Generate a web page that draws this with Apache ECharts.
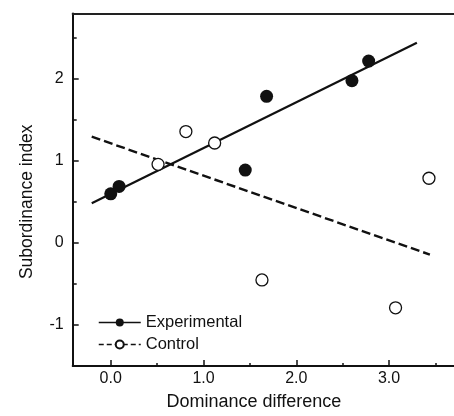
<!DOCTYPE html>
<html>
<head>
<meta charset="utf-8">
<script src="https://cdn.jsdelivr.net/npm/echarts@6/dist/echarts.min.js"></script>
<style>html,body{margin:0;padding:0;background:#fff}#c{width:454px;height:416px}</style>
</head>
<body>
<div id="c"></div>
<script>
// Data
const expX = [0.0, 0.09, 1.45, 1.68, 2.60, 2.78];
const expY = [0.60, 0.69, 0.89, 1.79, 1.98, 2.22];
const ctlX = [0.51, 0.81, 1.12, 1.63, 3.07, 3.43];
const ctlY = [0.96, 1.36, 1.22, -0.45, -0.79, 0.79];
const expFitX = [-0.205, 3.30];
const expFitY = [0.486, 2.442];
const ctlFitX = [-0.205, 3.44];
const ctlFitY = [1.297, -0.141];
const xMajorTicks = [0, 1, 2, 3];
const xMinorTicks = [0.5, 1.5, 2.5, 3.5];
const yMajorTicks = [-1, 0, 1, 2];
const yMinorTicks = [-0.5, 0.5, 1.5, 2.5];
const seriesNames = ['Experimental', 'Control'];

const pairs = (xs, ys) => xs.map((x, i) => [x, ys[i]]);
const FONT = '"Liberation Sans", Arial, Helvetica, sans-serif';
const X_MIN = -0.41, X_MAX = 3.70, Y_MIN = -1.5, Y_MAX = 2.8;

const chart = echarts.init(document.getElementById('c'), null, {renderer: 'canvas'});
const axisLine = {show: true, onZero: false, lineStyle: {color: '#111', width: 2}};
chart.setOption({
  animation: false,
  backgroundColor: '#fff',
  grid: {left: 72.7, right: 0, top: 13.5, bottom: 45.3, containLabel: false},
  legend: {
    orient: 'vertical', left: 93, top: 309,
    itemWidth: 42, itemHeight: 10, itemGap: 5,
    textStyle: {fontFamily: FONT, fontSize: 16.5, color: '#111', padding: [0, 0, 0, 0]},
    data: [
      {name: seriesNames[0], lineStyle: {opacity: 1, width: 1.5, type: 'solid', color: '#111'}},
      {name: seriesNames[1], lineStyle: {opacity: 1, width: 1.5, type: [5, 3], color: '#111'}}
    ]
  },
  xAxis: [
    {
      type: 'value', min: X_MIN, max: X_MAX, position: 'bottom',
      name: 'Dominance difference', nameLocation: 'middle', nameGap: 27,
      nameTextStyle: {fontFamily: FONT, fontSize: 18, color: '#111', padding: [0, 19, 0, 0]},
      axisLine: axisLine,
      axisTick: {show: true, inside: true, length: 6, customValues: xMajorTicks, lineStyle: {color: '#111', width: 1.5}},
      axisLabel: {show: true, customValues: xMajorTicks, margin: 5, fontFamily: FONT, fontSize: 16, color: '#111',
        formatter: v => v.toFixed(1)},
      splitLine: {show: false}
    },
    {
      type: 'value', min: X_MIN, max: X_MAX, position: 'bottom',
      axisLine: {show: false, onZero: false},
      axisTick: {show: true, inside: true, length: 3, customValues: xMinorTicks, lineStyle: {color: '#111', width: 1.5}},
      axisLabel: {show: false}, splitLine: {show: false}
    },
    {
      type: 'value', min: X_MIN, max: X_MAX, position: 'top',
      axisLine: {show: true, onZero: false, lineStyle: {color: '#222', width: 2}},
      axisTick: {show: false}, axisLabel: {show: false}, splitLine: {show: false}
    }
  ],
  yAxis: [
    {
      type: 'value', min: Y_MIN, max: Y_MAX, position: 'left',
      name: 'Subordinance index', nameLocation: 'middle', nameGap: 37,
      nameTextStyle: {fontFamily: FONT, fontSize: 17.5, color: '#111', padding: [0, 24, 0, 0]},
      axisLine: axisLine,
      axisTick: {show: true, inside: true, length: 6, customValues: yMajorTicks, lineStyle: {color: '#111', width: 1.5}},
      axisLabel: {show: true, customValues: yMajorTicks, margin: 9, fontFamily: FONT, fontSize: 16, color: '#111',
        formatter: v => String(v)},
      splitLine: {show: false}
    },
    {
      type: 'value', min: Y_MIN, max: Y_MAX, position: 'left',
      axisLine: {show: false, onZero: false},
      axisTick: {show: true, inside: true, length: 4, customValues: yMinorTicks, lineStyle: {color: '#111', width: 1.5}},
      axisLabel: {show: false}, splitLine: {show: false}
    }
  ],
  series: [
    {
      name: 'fitE', type: 'line', xAxisIndex: 0, yAxisIndex: 0, symbol: 'none',
      data: pairs(expFitX, expFitY),
      lineStyle: {color: '#111', width: 2.2, type: 'solid'}, silent: true
    },
    {
      name: 'fitC', type: 'line', xAxisIndex: 0, yAxisIndex: 0, symbol: 'none',
      data: pairs(ctlFitX, ctlFitY),
      lineStyle: {color: '#111', width: 2.4, type: [9, 4]}, silent: true
    },
    {
      name: seriesNames[0], type: 'line', xAxisIndex: 0, yAxisIndex: 0,
      symbol: 'circle', symbolSize: 13, showSymbol: true,
      data: pairs(expX, expY),
      lineStyle: {opacity: 0, color: '#111'},
      itemStyle: {color: '#111', borderColor: '#111', borderWidth: 0}
    },
    {
      name: seriesNames[1], type: 'line', xAxisIndex: 0, yAxisIndex: 0,
      symbol: 'circle', symbolSize: 12, showSymbol: true,
      data: pairs(ctlX, ctlY),
      lineStyle: {opacity: 0, color: '#111'},
      itemStyle: {color: '#fff', borderColor: '#111', borderWidth: 1.3}
    }
  ]
});
</script>
</body>
</html>
